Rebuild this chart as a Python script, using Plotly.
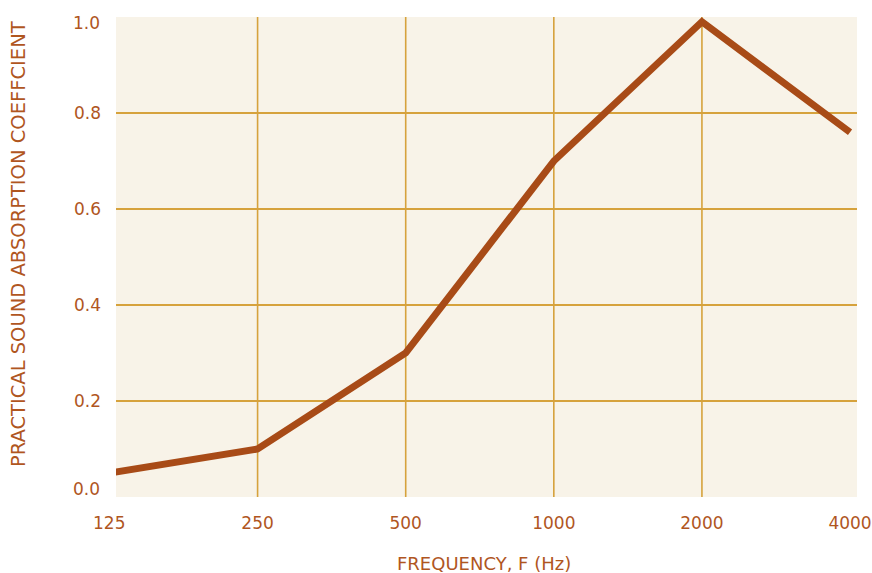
import math
import plotly.graph_objects as go

# Data
frequencies = [125, 250, 500, 1000, 2000, 4000]
freq_labels = ["125", "250", "500", "1000", "2000", "4000"]
absorption = [0.05, 0.10, 0.30, 0.70, 0.99, 0.76]
y_tick_vals = [0.2, 0.4, 0.6, 0.8]
y_tick_text = ["0.2", "0.4", "0.6", "0.8"]

LINE = "#A84B17"
TEXT = "#B0561F"
GRID = "#D6A23C"
BG = "#F8F3E8"
FONT = "'DejaVu Sans', sans-serif"
FS = 17

W, H = 872, 573

octave = math.log10(2)
x_range = [math.log10(frequencies[0]) + octave * 0.044,
           math.log10(frequencies[-1]) + octave * 0.047]

def xpaper(f):
    return (math.log10(f) - x_range[0]) / (x_range[1] - x_range[0])

fig = go.Figure()
fig.add_trace(go.Scatter(
    x=frequencies, y=absorption, mode="lines",
    line=dict(color=LINE, width=7),
    hoverinfo="skip", showlegend=False,
))

# vertical grid lines (interior frequencies only)
for f in frequencies[1:-1]:
    fig.add_shape(type="line", xref="x", yref="paper", x0=f, x1=f, y0=0, y1=1,
                  line=dict(color=GRID, width=1.6), layer="below")

fig.update_layout(
    width=W, height=H,
    margin=dict(l=116, r=15, t=17, b=76, autoexpand=False),
    paper_bgcolor="white", plot_bgcolor=BG,
    font=dict(family=FONT, color=TEXT, size=FS),
    xaxis=dict(type="log", range=x_range, tickmode="array",
               tickvals=frequencies[1:], ticktext=freq_labels[1:],
               showgrid=False, zeroline=False, showline=False, ticks="",
               ticklabeloverflow="allow", automargin=False,
               ticklabelstandoff=14, tickfont=dict(size=FS, color=TEXT)),
    yaxis=dict(range=[0, 1], tickmode="array", tickvals=y_tick_vals,
               ticktext=y_tick_text, showgrid=True, gridcolor=GRID, gridwidth=1.6,
               zeroline=False, showline=False, ticks="", automargin=False,
               ticklabelstandoff=14, tickfont=dict(size=FS, color=TEXT)),
)

ann = []
# edge tick labels
ann.append(dict(xref="paper", yref="paper", x=xpaper(frequencies[0]), y=0, yanchor="top",
                xanchor="center", yshift=-14, text=freq_labels[0], showarrow=False,
                font=dict(size=FS, color=TEXT, family=FONT)))
ann.append(dict(xref="paper", yref="y", x=0, y=0, xanchor="right", yanchor="middle",
                xshift=-14, yshift=8, text="0.0", showarrow=False,
                font=dict(size=FS, color=TEXT, family=FONT)))
ann.append(dict(xref="paper", yref="y", x=0, y=1, xanchor="right", yanchor="middle",
                xshift=-14, yshift=-6, text="1.0", showarrow=False,
                font=dict(size=FS, color=TEXT, family=FONT)))
# axis titles
ann.append(dict(xref="paper", yref="paper", x=0.496, y=-0.1375, xanchor="center",
                yanchor="middle", text="FREQUENCY, F (Hz)", showarrow=False,
                font=dict(size=18, color=TEXT, family=FONT)))
ann.append(dict(xref="paper", yref="paper", x=-0.1322, y=0.527, xanchor="center",
                yanchor="middle", textangle=-90,
                text="PRACTICAL SOUND ABSORPTION COEFFCIENT", showarrow=False,
                font=dict(size=19.5, color=TEXT, family=FONT)))
fig.update_layout(annotations=ann)

fig.write_html("out.html", config={"displayModeBar": False},
               post_script="document.body.style.margin='0';document.body.style.overflow='hidden';")
